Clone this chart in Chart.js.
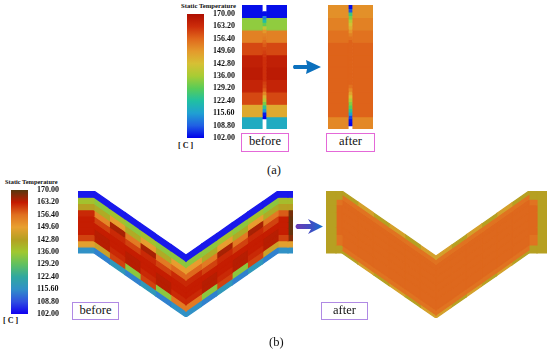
<!DOCTYPE html>
<html>
<head>
<meta charset="utf-8">
<title>Static Temperature</title>
<script src="https://cdn.jsdelivr.net/npm/chart.js"></script>
<style>
  body { margin:0; background:#fff; width:550px; height:353px; position:relative; overflow:hidden; font-family:"Liberation Serif",serif; color:#111; }
  canvas { position:absolute; filter:blur(0.4px); }
  .lbl { position:absolute; white-space:nowrap; }
  .small { font-weight:bold; font-size:6.7px; }
  .cap { font-size:12.5px; }
  .box { position:absolute; box-sizing:border-box; background:#fff; text-align:center; font-size:12.5px; line-height:15px; }
  .boxa { border:1.5px solid #e468d8; }
  .boxb { border:1.5px solid #b08ae4; }
  svg { position:absolute; left:0; top:0; }
</style>
</head>
<body>

<div class="lbl small" style="left:181px;top:2px">Static Temperature</div>
<div class="lbl small" style="left:178px;top:141px;font-size:8px">[ C ]</div>
<canvas id="barA"></canvas>
<canvas id="beforeA"></canvas>
<canvas id="afterA"></canvas>
<div class="box boxa" style="left:241px;top:133px;width:48px;height:19px">before</div>
<div class="box boxa" style="left:326px;top:133px;width:49px;height:19px">after</div>
<div class="lbl cap" style="left:267px;top:163px">(a)</div>

<div class="lbl small" style="left:5px;top:178px;font-size:6.4px">Static Temperature</div>
<div class="lbl small" style="left:3px;top:316px;font-size:8px">[ C ]</div>
<canvas id="barB"></canvas>
<canvas id="beforeB"></canvas>
<canvas id="afterB"></canvas>
<div class="box boxb" style="left:72px;top:302px;width:47px;height:18px">before</div>
<div class="box boxb" style="left:321px;top:302px;width:47px;height:18px">after</div>
<div class="lbl cap" style="left:269px;top:335px">(b)</div>

<svg width="550" height="353">
  <defs><linearGradient id="arrowB"><stop offset="0" stop-color="#6d3cb4"/><stop offset="0.6" stop-color="#3c50c4"/><stop offset="1" stop-color="#1272d0"/></linearGradient></defs>
  <path d="M294 65 H307 L306 60 L321 67 L306 74 L307 69 H294 Q292 67 294 65 Z" fill="#0b70bd"/>
  <path d="M297 224 H311 L308 219 L323 226.5 L308 234 L311 229 H297 Q294 226.5 297 224 Z" fill="url(#arrowB)"/>
</svg>

<script type="text/javascript">
    // colour bar
    const tempTicks = [102,108.8,115.6,122.4,129.2,136,142.8,149.6,156.4,163.2,170];
    const tickLabels = ['102.00','108.80','115.60','122.40','129.20','136.00','142.80','149.60','156.40','163.20','170.00'];
    const colorsA = ['#0000ea','#2060e4','#20a0d2','#20c0a2','#58cc58','#a8cc34','#d6c034','#e49a2c','#e0681c','#cc2c0a','#ae0e00'];
    const colorsB = ['#1000f0','#3050e0','#3090c8','#30a8a0','#60c060','#a0c830','#b4a022','#e8a030','#e07020','#c41a00','#56380e'];

    // (a) temperatures by row, top to bottom
    const rowsBeforeA = [103,134,153,160,166,167,165,160,147,118];
    const rowsAfterA  = [151,153,155,157,157,157,157,157,157,152];
    // narrow slot in the middle, finer rows, null = empty notch
    const slotBeforeA = [null,null,103,112,122,130,140,150,153,154,156,158,160,161,162,163,163,163,163,163,163,163,161,160,158,152,146,138,132,124,115,104,102,null,null,null];
    const slotAfterA  = [103,108,126,132,138,142,146,150,153,155,157,157,157,157,157,157,157,157,157,157,157,157,157,155,152,148,143,137,133,129,124,116,107,103,102,null];

    // (b) temperatures by row and column along the bent part
    const rowsBeforeB = [
        [104,104,104,104,104,104,104,104,104,104,104,104,104,104,104],
        [137,134,137,134,137,134,134,134,134,137,134,137,134,138,138],
        [143,141,150,141,150,141,150,150,141,150,141,150,141,143,143],
        [162,153,165,155,165,155,157,157,155,165,155,165,155,158,168],
        [163,160,162,160,162,160,162,162,160,162,160,162,160,163,169],
        [163,163,163,163,163,163,163,163,163,163,163,163,163,163,169],
        [163,164,163,164,163,164,163,163,164,163,164,163,164,163,169],
        [160,164,162,164,162,164,162,162,164,162,164,162,164,160,167],
        [149,146,160,134,160,134,155,155,134,160,134,160,146,149,149],
        [116,114,118,114,118,114,116,116,114,118,114,118,114,116,116]
    ];
    const rowsAfterB = [
        [143,143,143,147,143,147,143,147,147,143,147,143,147,143,143,143],
        [143,143,156,156,156,156,156,156,156,156,156,156,156,156,143,143],
        [143,156,157,157,157,157,157,157,157,157,157,157,157,157,156,143],
        [143,157,157,157,157,157,157,157,157,157,157,157,157,157,157,143],
        [143,157,157,157,157,157,157,157,157,157,157,157,157,157,157,143],
        [143,157,157,157,157,157,157,157,157,157,157,157,157,157,157,143],
        [143,157,157,157,157,157,157,157,157,157,157,157,157,157,157,143],
        [143,156,157,157,157,157,157,157,157,157,157,157,157,157,156,143],
        [143,143,156,156,156,156,156,156,156,156,156,156,156,156,143,143],
        [143,143,143,147,143,147,143,147,147,143,147,143,147,143,143,143]
    ];
    const rowEdgesBefore = [0,1,2,3,4,5,6,7,8,9,10];
    const rowEdgesAfter  = [0,0.5,1.3,2.2,3.4,4.6,5.8,7,8.7,9.5,10];

    function tempColor(t, colors) {
        let i = 0;
        while (i < tempTicks.length-2 && t > tempTicks[i+1]) i++;
        const f = Math.max(0, Math.min(1, (t-tempTicks[i])/(tempTicks[i+1]-tempTicks[i])));
        const a = parseInt(colors[i].slice(1),16), b = parseInt(colors[i+1].slice(1),16);
        const mix = s => Math.round(((a>>s)&255)*(1-f) + ((b>>s)&255)*f);
        return 'rgb('+mix(16)+','+mix(8)+','+mix(0)+')';
    }

    function place(id, left, top, w, h) {
        const c = document.getElementById(id);
        c.width = w; c.height = h;
        c.style.left = left+'px'; c.style.top = top+'px';
        c.style.width = w+'px'; c.style.height = h+'px';
        return c;
    }

    function drawBar(id, left, top, colors) {
        const c = place(id, left, top-6, 50, 136);
        new Chart(c, {
            type: 'bar',
            data: { labels: ['T'], datasets: [{
                data: [[102,170]],
                barPercentage: 1, categoryPercentage: 1,
                backgroundColor: function(context) {
                    const chart = context.chart;
                    if (!chart.chartArea) return colors[0];
                    const y = chart.scales.y;
                    const g = chart.ctx.createLinearGradient(0, y.getPixelForValue(102), 0, y.getPixelForValue(170));
                    tempTicks.forEach((v,i) => g.addColorStop((v-102)/68, colors[i]));
                    return g;
                }
            }]},
            options: {
                responsive: false, animation: false, devicePixelRatio: 1,
                layout: { padding: { top: 6, bottom: 6, left: 0, right: 0 } },
                plugins: { legend: {display:false}, tooltip: {enabled:false} },
                scales: {
                    x: { display: false },
                    y: {
                        position: 'right', min: 102, max: 170,
                        grid: { display:false, drawTicks:false }, border: { display:false },
                        afterBuildTicks: scale => { scale.ticks = tempTicks.map(v => ({value:v})); },
                        afterFit: scale => { scale.width = 33; scale.paddingTop = 0; scale.paddingBottom = 0; },
                        ticks: {
                            autoSkip: false, padding: 9, color: '#111',
                            font: { family:'"Liberation Serif"', size:8, weight:'bold' },
                            callback: (v,i) => tickLabels[i]
                        }
                    }
                }
            }
        });
    }

    // one filled cell per temperature, drop lifts the rows down along the bend
    function cell(x0, x1, y0, y1, drop, t, colors) {
        const pts = [{x:x0,y:y0+drop(x0)},{x:x1,y:y0+drop(x1)},{x:x1,y:y1+drop(x1)},{x:x0,y:y1+drop(x0)},{x:x0,y:y0+drop(x0)}];
        const col = tempColor(t, colors);
        return { data:pts, showLine:true, fill:'shape', tension:0, pointRadius:0, clip:false,
                 borderWidth:1.2, borderColor:col, backgroundColor:col };
    }

    function drawPanel(c, W, H, datasets) {
        new Chart(c, {
            type: 'scatter',
            data: { datasets: datasets },
            options: {
                responsive: false, animation: false, devicePixelRatio: 1,
                layout: { padding: 0 },
                plugins: { legend: {display:false}, tooltip: {enabled:false} },
                scales: {
                    x: { type:'linear', display:false, min:0, max:W },
                    y: { type:'linear', display:false, min:0, max:H, reverse:true }
                }
            }
        });
    }

    function slotPanel(id, left, rows, slot) {
        const c = place(id, left, 5, 45, 124);
        const none = x => 0;
        const sets = [];
        rows.forEach((t,r) => {
            sets.push(cell(0, 20, r, r+1, none, t, colorsA));
            sets.push(cell(25, 45, r, r+1, none, t, colorsA));
        });
        slot.forEach((t,i) => {
            if (t === null) return;
            const s = rows.length/slot.length;
            sets.push(cell(20.4, 24.3, i*s, (i+1)*s, none, t, colorsA));
        });
        drawPanel(c, 45, rows.length, sets);
    }

    function bentPanel(id, left, top, W, H, flatL, flatR, mid, edges, rowEdges, rows, colors) {
        const c = place(id, left, top, W, H);
        const depth = H/6.2 - rows.length;
        const drop = x => {
            if (x <= flatL || x >= flatR) return 0;
            return depth * (x < mid ? (x-flatL)/(mid-flatL) : (flatR-x)/(flatR-mid));
        };
        const sets = [];
        rows.forEach((row,r) => row.forEach((t,k) => {
            sets.push(cell(edges[k], edges[k+1], rowEdges[r], rowEdges[r+1], drop, t, colors));
        }));
        drawPanel(c, W, rows.length+depth, sets);
    }

    const edgesBefore = [0,16,31.3,46.7,62,77.3,92.7,108,123.3,138.7,154,169.3,184.7,200,210,215];
    const edgesAfter  = [0,10,16,31.7,47.3,63,78.7,94.3,110,125.2,140.3,155.5,170.7,185.8,203,211,221];

    drawBar('barA', 187, 14, colorsA);
    drawBar('barB', 11, 190, colorsB);
    slotPanel('beforeA', 242, rowsBeforeA, slotBeforeA);
    slotPanel('afterA', 328, rowsAfterA, slotAfterA);
    bentPanel('beforeB', 78, 191, 215, 126, 16, 200, 108, edgesBefore, rowEdgesBefore, rowsBeforeB, colorsB);
    bentPanel('afterB', 326, 191, 221, 127, 16, 203, 110, edgesAfter, rowEdgesAfter, rowsAfterB, colorsB);
</script>
</body>
</html>
